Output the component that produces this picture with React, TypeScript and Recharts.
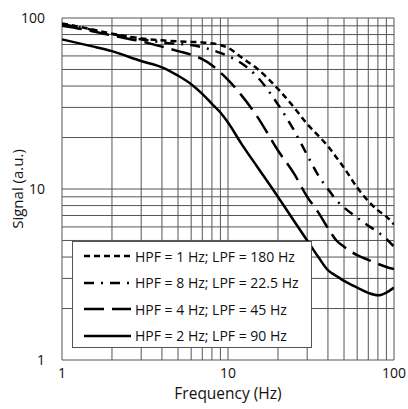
import React from 'react';
import {
    LineChart,
    Line,
    XAxis,
    YAxis,
    ReferenceLine,
} from 'recharts';

// Frequency points (Hz)
const freqs = [1, 1.5, 2, 3, 4, 5, 6, 7, 8, 9, 10, 12, 15, 20, 25, 30, 35, 40, 45, 50, 60, 70, 80, 90, 100];

// Signal (a.u.) for each filter setting
const hpf1 = [93, 86, 81, 76, 74, 73, 72.5, 72, 71, 69.5, 67, 59, 50.5, 38.5, 30, 24, 20.5, 17.8, 15.3, 13.3, 10.2, 8.5, 7.5, 6.9, 6.2];
const hpf8 = [92, 85.5, 80.5, 75, 72, 70.5, 69.5, 67.5, 65, 62.5, 60, 54.5, 45.3, 31.2, 22, 15.8, 12, 10, 8.6, 7.8, 6.8, 6.1, 5.6, 5.1, 4.6];
const hpf4 = [90, 84, 79, 73, 68, 64, 61, 57.5, 53, 48, 43.5, 35.5, 26.5, 16.8, 12.3, 9.0, 7.3, 5.9, 5.0, 4.6, 4.1, 3.85, 3.65, 3.5, 3.4];
const hpf2 = [75, 68.5, 64, 56, 51.5, 46, 41, 36, 31.5, 28, 24.5, 18.5, 13.5, 9.0, 6.5, 5.0, 4.0, 3.35, 3.1, 2.9, 2.65, 2.47, 2.39, 2.48, 2.65];

const seriesNames = [
    'HPF = 1 Hz; LPF = 180 Hz',
    'HPF = 8 Hz; LPF = 22.5 Hz',
    'HPF = 4 Hz; LPF = 45 Hz',
    'HPF = 2 Hz; LPF = 90 Hz',
];

const decadeTicks = [1, 10, 100];
const gridValues = [1, 2, 3, 4, 5, 6, 7, 8, 9, 10, 20, 30, 40, 50, 60, 70, 80, 90, 100];

const data = freqs.map((f, i) => ({
    f,
    hpf1: hpf1[i],
    hpf8: hpf8[i],
    hpf4: hpf4[i],
    hpf2: hpf2[i],
}));

const FONT = '"Open Sans", sans-serif';

const styles = [
    { key: 'hpf1', dash: '6 4' },
    { key: 'hpf8', dash: '10 7 2 7' },
    { key: 'hpf4', dash: '20 8' },
    { key: 'hpf2', dash: undefined as string | undefined },
];

// legend drawn as an overlay so it doesn't take space from the plot
function LegendBox() {
    return (
        <div
            style={{
                position: 'absolute',
                left: 72,
                top: 241,
                width: 240,
                height: 107,
                background: '#fff',
                border: '1px solid #555',
                fontFamily: FONT,
                fontSize: 14,
                color: '#111',
                paddingTop: 1,
                boxSizing: 'border-box',
            }}
        >
            {styles.map((s, i) => (
                <div key={s.key} style={{ display: 'flex', alignItems: 'center', height: 26.5 }}>
                    <svg width={62} height={10} style={{ flex: 'none' }}>
                        <line
                            x1={11}
                            x2={58}
                            y1={5}
                            y2={5}
                            stroke="#000"
                            strokeWidth={2.5}
                            strokeDasharray={s.dash}
                        />
                    </svg>
                    <span style={{ whiteSpace: 'nowrap' }}>{seriesNames[i]}</span>
                </div>
            ))}
        </div>
    );
}

export default function App() {
    return (
        <div style={{ position: 'relative', width: 408, height: 409, background: '#fff' }}>
            <style>{`body{margin:0}`}</style>
            <LineChart
                width={408}
                height={409}
                data={data}
                margin={{ top: 18, right: 14, left: 0, bottom: 0 }}
            >
                {gridValues.map((v) => (
                    <ReferenceLine key={'x' + v} x={v} stroke="#555" strokeWidth={1} />
                ))}
                {gridValues.map((v) => (
                    <ReferenceLine key={'y' + v} y={v} stroke="#555" strokeWidth={1} />
                ))}
                <XAxis
                    dataKey="f"
                    type="number"
                    scale="log"
                    domain={[1, 100]}
                    ticks={decadeTicks}
                    allowDataOverflow
                    axisLine={false}
                    tickLine={false}
                    height={49}
                    tick={{ fill: '#111', fontSize: 14, fontFamily: FONT }}
                    label={{
                        value: 'Frequency (Hz)',
                        position: 'insideBottom',
                        offset: 10,
                        fill: '#111',
                        fontSize: 15.5,
                        fontFamily: FONT,
                    }}
                />
                <YAxis
                    type="number"
                    scale="log"
                    domain={[1, 100]}
                    ticks={decadeTicks}
                    allowDataOverflow
                    axisLine={false}
                    tickLine={false}
                    width={62}
                    tickMargin={11}
                    tick={{ fill: '#111', fontSize: 14, fontFamily: FONT }}
                    label={{
                        value: 'Signal (a.u.)',
                        angle: -90,
                        position: 'insideLeft',
                        offset: 18,
                        fill: '#111',
                        fontSize: 15,
                        fontFamily: FONT,
                        style: { textAnchor: 'middle' },
                    }}
                />
                {styles.map((s, i) => (
                    <Line
                        key={s.key}
                        dataKey={s.key}
                        name={seriesNames[i]}
                        type="monotone"
                        stroke="#000"
                        strokeWidth={2.5}
                        strokeDasharray={s.dash}
                        dot={false}
                        activeDot={false}
                        isAnimationActive={false}
                    />
                ))}
            </LineChart>
            <LegendBox />
        </div>
    );
}
